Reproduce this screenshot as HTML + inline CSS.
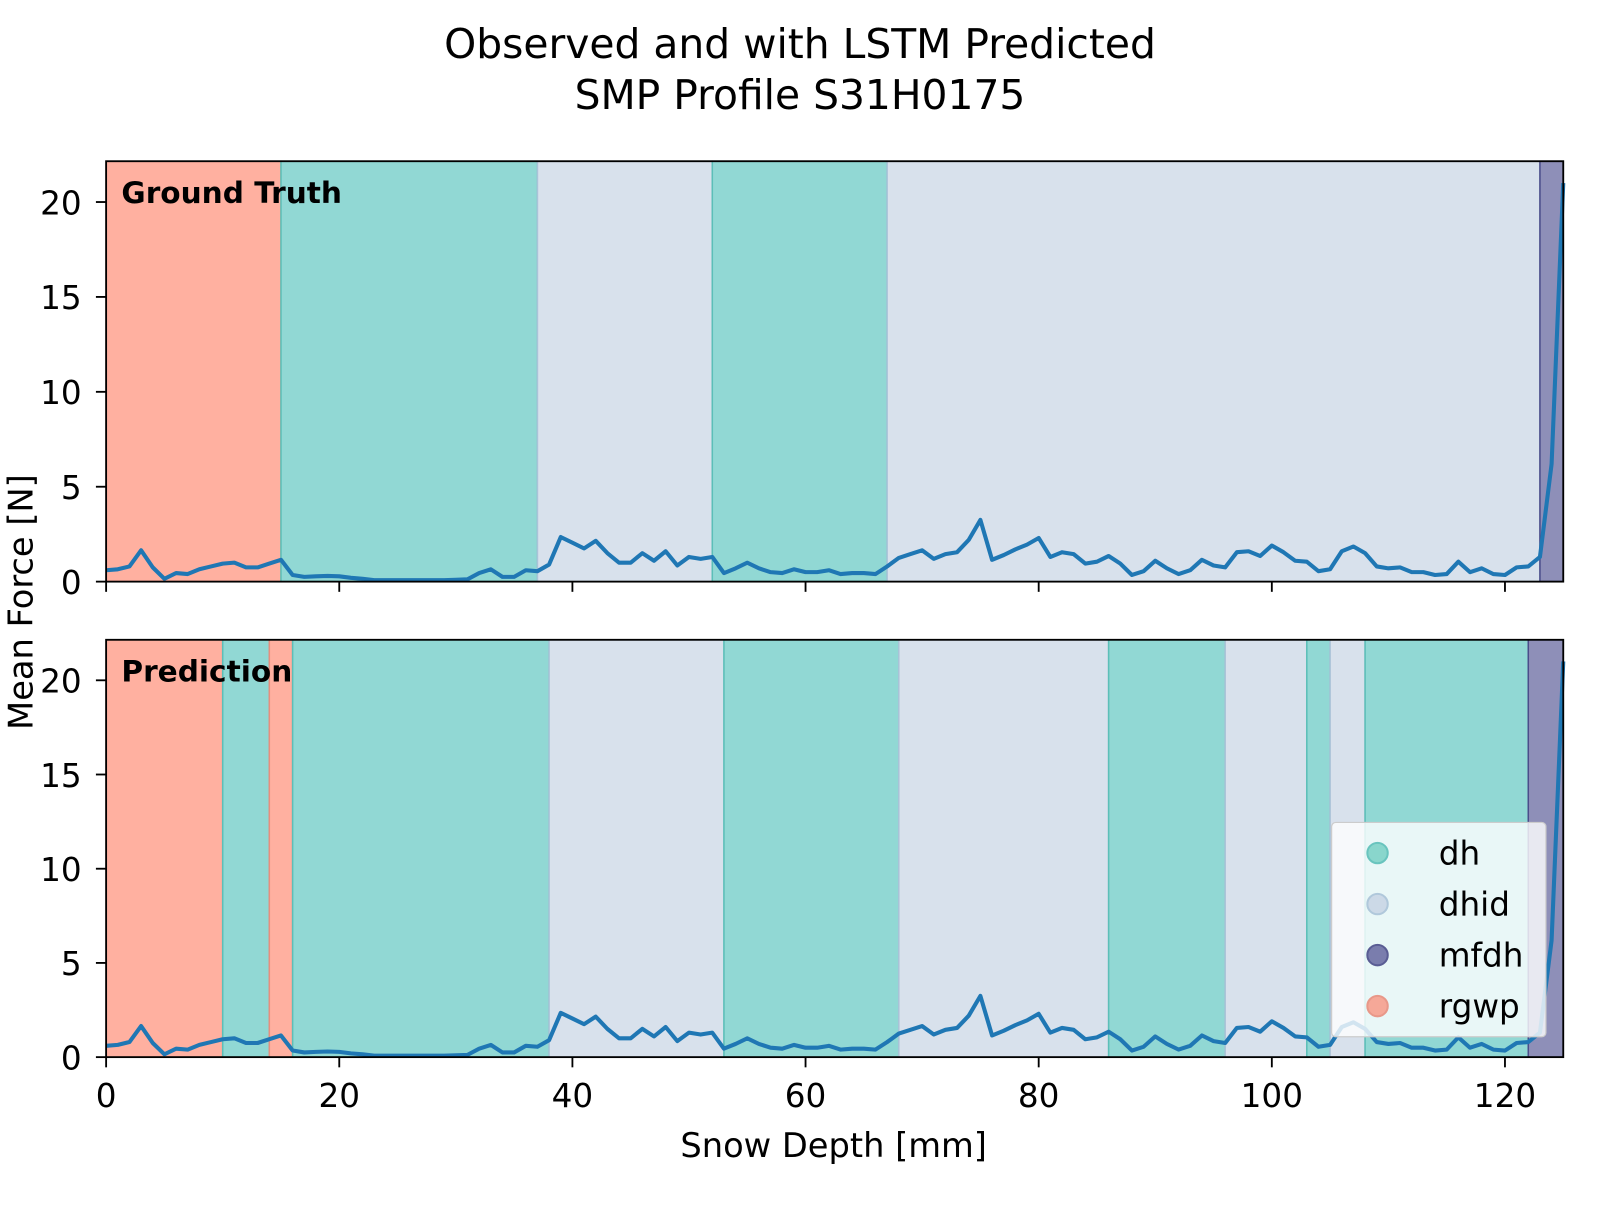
<!DOCTYPE html>
<html><head><meta charset="utf-8"><style>
body{margin:0;background:#fff;font-family:"Liberation Sans","DejaVu Sans",sans-serif}
svg text{font-family:"DejaVu Sans","Liberation Sans",sans-serif}
</style></head><body>
<svg id="chart" width="1600" height="1200" xmlns="http://www.w3.org/2000/svg">
<g transform="scale(1.0204)">
<text x="784" y="57" font-size="40" text-anchor="middle">Observed and with LSTM Predicted</text>
<text x="784" y="107" font-size="40" text-anchor="middle">SMP Profile S31H0175</text>
<g id="top"></g>
<g id="bot"></g>
<text x="817" y="1134" font-size="33" text-anchor="middle">Snow Depth [mm]</text>
<text transform="translate(32,590) rotate(-90)" font-size="33" text-anchor="middle">Mean Force [N]</text>
</g>
</svg>
<script>
const depth = [];
for (let i = 0; i <= 125; i++) depth.push(i);
const force = [0.6,0.65,0.8,1.65,0.75,0.15,0.45,0.4,0.65,0.8,0.95,1.0,0.75,0.75,0.95,1.15,0.35,0.25,0.28,0.3,0.28,0.2,0.15,0.08,0.08,0.08,0.08,0.08,0.08,0.08,0.1,0.12,0.45,0.65,0.25,0.25,0.6,0.55,0.9,2.35,2.05,1.75,2.15,1.5,1.0,1.0,1.5,1.1,1.6,0.85,1.3,1.2,1.3,0.45,0.7,1.0,0.7,0.5,0.45,0.65,0.5,0.5,0.6,0.4,0.45,0.45,0.4,0.8,1.25,1.45,1.65,1.2,1.45,1.55,2.2,3.25,1.15,1.4,1.7,1.95,2.3,1.3,1.55,1.45,0.95,1.05,1.35,0.95,0.35,0.55,1.1,0.7,0.4,0.6,1.15,0.85,0.75,1.55,1.6,1.35,1.9,1.55,1.1,1.05,0.55,0.65,1.6,1.85,1.5,0.8,0.7,0.75,0.5,0.5,0.35,0.4,1.05,0.5,0.7,0.4,0.35,0.75,0.8,1.3,6.2,21];
const truthStarts = [0,15,37,52,67,123];
const truthEnds   = [15,37,52,67,123,125];
const truthLabels = ["rgwp","dh","dhid","dh","dhid","mfdh"];
const predStarts = [0,10,14,16,38,53,68,86,96,103,105,108,122];
const predEnds   = [10,14,16,38,53,68,86,96,103,105,108,122,125];
const predLabels = ["rgwp","dh","rgwp","dh","dhid","dh","dhid","dh","dhid","dh","dhid","dh","mfdh"];
const xTicks = [0,20,40,60,80,100,120];
const yTicks = [0,5,10,15,20];
const legendLabels = ["dh","dhid","mfdh","rgwp"];
const fills = {rgwp:"#ffb0a0",dh:"#91d8d4",dhid:"#d8e1ec",mfdh:"#8e8fb8"};
const edges = {rgwp:"#e88e7e",dh:"#5cbfb8",dhid:"#aac3d8",mfdh:"#4b4d8a"};
const markers = {rgwp:"#f7a08e",dh:"#7fd3c8",dhid:"#c9d6e6",mfdh:"#6e70a6"};
const NS="http://www.w3.org/2000/svg";
const X0=104,X1=1532;
const xs=v=>X0+(v/125)*(X1-X0);
function mk(tag,attrs,parent){const e=document.createElementNS(NS,tag);for(const k in attrs)e.setAttribute(k,attrs[k]);parent.appendChild(e);return e;}
function panel(g,top,bot,starts,ends,labels,title,showX){
  const ymax=22.15;
  const ys=v=>bot-(v/ymax)*(bot-top);
  for(let i=0;i<starts.length;i++){
    const r=mk('rect',{x:xs(starts[i]),y:top,width:xs(ends[i])-xs(starts[i]),height:bot-top,fill:fills[labels[i]],stroke:edges[labels[i]],'stroke-width':1.5},g);
    
    
  }
  const pts=depth.map((d,i)=>xs(d)+','+ys(force[i])).join(' ');
  const pl=mk('polyline',{points:pts,fill:'none',stroke:'#1f77b4','stroke-width':4,'stroke-linejoin':'round'},g);
  
  
  const fr=mk('rect',{x:X0,y:top,width:X1-X0,height:bot-top,fill:'none',stroke:'#000','stroke-width':1.8},g);
  
  
  yTicks.forEach(t=>{
    mk('line',{x1:X0,x2:X0-10,y1:ys(t),y2:ys(t),stroke:'#000','stroke-width':1.8},g);
    const tx=mk('text',{x:X0-24,y:ys(t)+12,'font-size':32,'text-anchor':'end'},g);
    tx.textContent=t;
    
    
  });
  xTicks.forEach(t=>{
    mk('line',{x1:xs(t),x2:xs(t),y1:bot,y2:bot+10,stroke:'#000','stroke-width':1.8},g);
    if(showX){
      const tx=mk('text',{x:xs(t),y:bot+49,'font-size':32,'text-anchor':'middle'},g);
      tx.textContent=t;
      
      
    }
  });
  const tt=mk('text',{x:119,y:top+41,'font-size':29,'font-weight':'bold'},g);
  tt.textContent=title;
  
  
}
panel(document.getElementById('top'),158,570,truthStarts,truthEnds,truthLabels,'Ground Truth',false);
const bg=document.getElementById('bot');
panel(bg,627,1036,predStarts,predEnds,predLabels,'Prediction',true);
const lg=mk('g',{},bg);


mk('rect',{x:1305,y:806,width:210,height:210,rx:4,fill:'rgba(255,255,255,0.8)',stroke:'#ccc','stroke-width':1.2},lg);
legendLabels.forEach((l,i)=>{
  const y=836+i*50;
  const c=mk('circle',{cx:1350,cy:y,r:10,fill:markers[l],stroke:edges[l],'stroke-width':2,opacity:0.9},lg);
  
  
  const t=mk('text',{x:1410,y:y+11,'font-size':32},lg);
  t.textContent=l;
  
  
});
</script>
</body></html>
